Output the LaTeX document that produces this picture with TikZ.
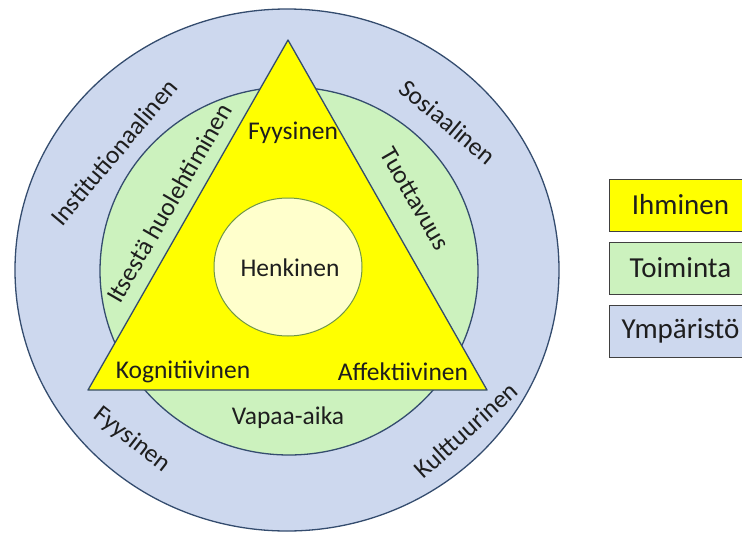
\documentclass[tikz,border=0pt]{standalone}
\usepackage{fontspec}
\setmainfont{Carlito}
\definecolor{envblue}{RGB}{205,216,238}
\definecolor{actgreen}{RGB}{204,242,190}
\definecolor{humyellow}{RGB}{255,255,0}
\definecolor{spiritcream}{RGB}{255,255,204}
\definecolor{rimline}{RGB}{52,76,110}
\definecolor{spiritline}{RGB}{112,150,70}
\definecolor{inkgrey}{RGB}{30,30,30}
\tikzset{
  model/.style={
    x=1pt,
    y=-1pt,
    font={\fontsize{25.5}{29}\selectfont},
    text=inkgrey,
  },
  ring/.style={draw=rimline, line width=1.3pt},
  word/.style={inner sep=1pt},
  legend box/.style={
    draw=black!75,
    line width=1pt,
    anchor=west,
    minimum width=142pt,
    minimum height=52pt,
    inner sep=0pt,
    font={\fontsize{29}{32}\selectfont},
  },
}

\begin{document}
\begin{tikzpicture}[model]
    \useasboundingbox (0,0) rectangle (742,533);
    % rings: environment, activity
    \draw [ring, fill=envblue] (287,270) ellipse [x radius=272pt, y radius=261pt];
    \draw [ring, fill=actgreen] (289,271) ellipse [x radius=189pt, y radius=184pt];
    % person
    \draw [ring, fill=humyellow, line join=round] (288,40) coordinate (apex)
      -- (487,390) coordinate (rcorner) -- (88,390) coordinate (lcorner) -- cycle;
    \draw [draw=spiritline, line width=1pt, fill=spiritcream] (288,267) ellipse [x radius=74pt, y radius=69pt];

    \node [word] (spirit) at (290,268) {Henkinen};
    \node [word] (physical) at (293,133) {Fyysinen};
    \node [word] (cognitive) at (183,372) {Kognitiivinen};
    \node [word] (affective) at (403,372) {Affektiivinen};

    \node [word, rotate=60] (selfcare) at (169,203) {Itsestä huolehtiminen};
    \node [word, rotate=-60] (product) at (415,199) {Tuottavuus};
    \node [word] (leisure) at (288,418) {Vapaa-aika};

    \node [word, rotate=50] (institut) at (114,152) {Institutionaalinen};
    \node [word, rotate=-40] (social) at (448,122) {Sosiaalinen};
    \node [word, rotate=-38] (physenv) at (132,440) {Fyysinen};
    \node [word, rotate=42] (cultural) at (466,430) {Kulttuurinen};

    % legend
    \node [legend box, fill=humyellow] (lgperson) at (609,205) {Ihminen};
    \node [legend box, fill=actgreen] (lgactivity) at (609,268) {Toiminta};
    \node [legend box, fill=envblue] (lgenviron) at (609,331) {Ympäristö};
\end{tikzpicture}
\end{document}
